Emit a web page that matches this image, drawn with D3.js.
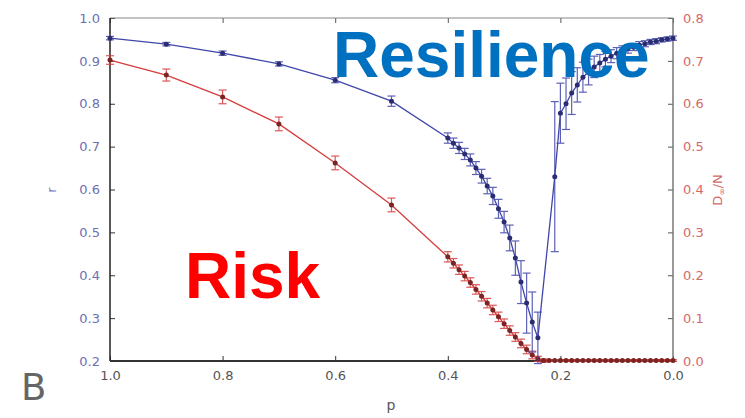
<!DOCTYPE html>
<meta charset="utf-8">
<script src="https://d3js.org/d3.v7.min.js"></script>
<style>
body { margin: 0; background: #fff; }
text { font-family: "DejaVu Sans", sans-serif; }
</style>
<svg id="chart" width="745" height="418"></svg>
<script>
// resilience r (left axis) against p
const pBlue = [1.0, 0.9, 0.8, 0.7, 0.6, 0.5,
  0.40, 0.39, 0.38, 0.37, 0.36, 0.35, 0.34, 0.33, 0.32, 0.31, 0.30, 0.29, 0.28, 0.27, 0.26, 0.25, 0.24,
  0.21, 0.20, 0.19, 0.18, 0.17, 0.16, 0.15, 0.14, 0.13, 0.12, 0.11, 0.10, 0.09, 0.08, 0.07, 0.06, 0.05, 0.04, 0.03, 0.02, 0.01, 0.00]
const rBlue = [0.953, 0.939, 0.918, 0.893, 0.855, 0.806,
  0.720, 0.708, 0.697, 0.683, 0.669, 0.650, 0.631, 0.608, 0.585, 0.555, 0.524, 0.487, 0.440, 0.384, 0.335, 0.291, 0.254,
  0.630, 0.778, 0.800, 0.825, 0.844, 0.862, 0.874, 0.886, 0.895, 0.904, 0.911, 0.918, 0.923, 0.928, 0.932, 0.937, 0.940, 0.944, 0.946, 0.949, 0.951, 0.953]
const rBlueErr = [0.004, 0.004, 0.005, 0.005, 0.006, 0.012,
  0.012, 0.012, 0.013, 0.013, 0.014, 0.015, 0.016, 0.018, 0.020, 0.022, 0.025, 0.030, 0.040, 0.050, 0.070, 0.070, 0.060,
  0.175, 0.070, 0.060, 0.050, 0.040, 0.035, 0.030, 0.025, 0.020, 0.018, 0.015, 0.013, 0.012, 0.010, 0.008, 0.008, 0.007, 0.006, 0.006, 0.005, 0.005, 0.005]

// risk D_inf/N (right axis) against p
const pRed = [1.0, 0.9, 0.8, 0.7, 0.6, 0.5,
  0.40, 0.39, 0.38, 0.37, 0.36, 0.35, 0.34, 0.33, 0.32, 0.31, 0.30, 0.29, 0.28, 0.27, 0.26, 0.25, 0.24, 0.23,
  0.22, 0.21, 0.20, 0.19, 0.18, 0.17, 0.16, 0.15, 0.14, 0.13, 0.12, 0.11, 0.10, 0.09, 0.08, 0.07, 0.06, 0.05, 0.04, 0.03, 0.02, 0.01, 0.00]
const dRed = [0.702, 0.667, 0.616, 0.553, 0.462, 0.364,
  0.243, 0.228, 0.213, 0.198, 0.183, 0.167, 0.151, 0.135, 0.119, 0.103, 0.087, 0.071, 0.056, 0.041, 0.027, 0.014, 0.005, 0.001,
  0.001, 0.001, 0.001, 0.001, 0.001, 0.001, 0.001, 0.001, 0.001, 0.001, 0.001, 0.001, 0.001, 0.001, 0.001, 0.001, 0.001, 0.001, 0.001, 0.001, 0.001, 0.001, 0.001]
const dRedErr = [0.010, 0.014, 0.016, 0.016, 0.016, 0.016,
  0.012, 0.011, 0.011, 0.011, 0.011, 0.011, 0.011, 0.011, 0.011, 0.011, 0.011, 0.011, 0.010, 0.010, 0.010, 0.009, 0.006, 0.004,
  0.002, 0.002, 0.002, 0.002, 0.002, 0.002, 0.002, 0.002, 0.002, 0.002, 0.002, 0.002, 0.002, 0.002, 0.002, 0.002, 0.002, 0.002, 0.002, 0.002, 0.002, 0.002, 0.002]

const pTicks = [1.0, 0.8, 0.6, 0.4, 0.2, 0.0]
const rTicks = [0.2, 0.3, 0.4, 0.5, 0.6, 0.7, 0.8, 0.9, 1.0]
const dTicks = [0.0, 0.1, 0.2, 0.3, 0.4, 0.5, 0.6, 0.7, 0.8]

const blue = "#4146aa", red = "#d63c3c"

const svg = d3.select("#chart")
const mLeft = 110, mRight = 673, mTop = 18, mBottom = 361

const x = d3.scaleLinear().domain([1, 0]).range([mLeft, mRight])
const yL = d3.scaleLinear().domain([0.2, 1.0]).range([mBottom, mTop])
const yR = d3.scaleLinear().domain([0, 0.8]).range([mBottom, mTop])

// axes, ticks inside like old matplotlib
svg.append("g").attr("transform", `translate(${mLeft},0)`)
  .call(d3.axisLeft(yL).tickValues(rTicks).tickSize(-5).tickPadding(10).tickFormat(d3.format(".1f")))
  .call(g => g.select(".domain").remove())
  .call(g => g.selectAll("text").attr("fill", "#6d70b4").attr("font-size", 13))
  .call(g => g.selectAll("line").attr("stroke", "#333"))

svg.append("g").attr("transform", `translate(${mRight},0)`)
  .call(d3.axisRight(yR).tickValues(dTicks).tickSize(-5).tickPadding(10).tickFormat(d3.format(".1f")))
  .call(g => g.select(".domain").remove())
  .call(g => g.selectAll("text").attr("fill", "#d46a6a").attr("font-size", 13))
  .call(g => g.selectAll("line").attr("stroke", "#555"))

svg.append("g").attr("transform", `translate(0,${mBottom})`)
  .call(d3.axisBottom(x).tickValues(pTicks).tickSize(-5).tickPadding(10).tickFormat(d3.format(".1f")))
  .call(g => g.select(".domain").remove())
  .call(g => g.selectAll("text").attr("fill", "#555").attr("font-size", 13))
  .call(g => g.selectAll("line").attr("stroke", "#333"))

svg.append("g").attr("transform", `translate(0,${mTop})`)
  .call(d3.axisTop(x).tickValues(pTicks).tickSize(-5).tickFormat(""))
  .call(g => g.select(".domain").remove())
  .call(g => g.selectAll("line").attr("stroke", "#555"))

// frame
svg.append("line").attr("x1", mLeft).attr("x2", mRight).attr("y1", mTop).attr("y2", mTop).attr("stroke", "#888").attr("stroke-width", 1.2)
svg.append("line").attr("x1", mRight).attr("x2", mRight).attr("y1", mTop).attr("y2", mBottom).attr("stroke", "#777").attr("stroke-width", 1.5)
svg.append("line").attr("x1", mLeft).attr("x2", mLeft).attr("y1", mTop).attr("y2", mBottom).attr("stroke", "#222").attr("stroke-width", 1.5)
svg.append("line").attr("x1", mLeft).attr("x2", mRight).attr("y1", mBottom).attr("y2", mBottom).attr("stroke", "#333").attr("stroke-width", 2)

function drawSeries(ps, vs, es, yScale, color, dot) {
  const pts = ps.map((p, i) => ({ p: p, v: vs[i], e: es[i] }))
  const g = svg.append("g")
  g.append("path").datum(pts)
    .attr("fill", "none").attr("stroke", color).attr("stroke-width", 1.3)
    .attr("d", d3.line().x(d => x(d.p)).y(d => yScale(d.v)))
  const eb = g.selectAll(".eb").data(pts).join("g").attr("stroke", color).attr("stroke-width", 1.2).attr("opacity", 0.85)
  eb.append("line").attr("x1", d => x(d.p)).attr("x2", d => x(d.p))
    .attr("y1", d => yScale(d.v - d.e)).attr("y2", d => yScale(d.v + d.e))
  eb.append("line").attr("x1", d => x(d.p) - 4).attr("x2", d => x(d.p) + 4)
    .attr("y1", d => yScale(d.v - d.e)).attr("y2", d => yScale(d.v - d.e))
  eb.append("line").attr("x1", d => x(d.p) - 4).attr("x2", d => x(d.p) + 4)
    .attr("y1", d => yScale(d.v + d.e)).attr("y2", d => yScale(d.v + d.e))
  g.selectAll("circle").data(pts).join("circle")
    .attr("cx", d => x(d.p)).attr("cy", d => yScale(d.v)).attr("r", 2.5)
    .attr("fill", dot)
}

drawSeries(pRed, dRed, dRedErr, yR, red, "#7a2424")
drawSeries(pBlue, rBlue, rBlueErr, yL, blue, "#2b2d72")

// axis labels
svg.append("text").attr("transform", "translate(56,190) rotate(-90)")
  .attr("text-anchor", "middle").attr("fill", "#6d70b4").attr("font-size", 13).text("r")
const dl = svg.append("text").attr("transform", "translate(722,190) rotate(-90)")
  .attr("text-anchor", "middle").attr("fill", "#d46a6a").attr("font-size", 13)
dl.append("tspan").text("D")
dl.append("tspan").attr("font-size", 9).attr("dy", 3).text("∞")
dl.append("tspan").attr("dy", -3).text("/N")
svg.append("text").attr("x", 391).attr("y", 410).attr("text-anchor", "middle")
  .attr("fill", "#555").attr("font-size", 14).text("p")

// panel letter and annotations
svg.append("text").attr("x", 21).attr("y", 400).attr("fill", "#666")
  .attr("font-size", 37).text("B")
svg.append("text").attr("x", 333).attr("y", 77)
  .style("font-family", "'Liberation Sans', Arial, sans-serif").attr("font-weight", "bold")
  .attr("font-size", 64).attr("fill", "#0070c0").text("Resilience")
svg.append("text").attr("x", 185).attr("y", 298)
  .style("font-family", "'Liberation Sans', Arial, sans-serif").attr("font-weight", "bold")
  .attr("font-size", 64).attr("fill", "#ff0000").text("Risk")
</script>
